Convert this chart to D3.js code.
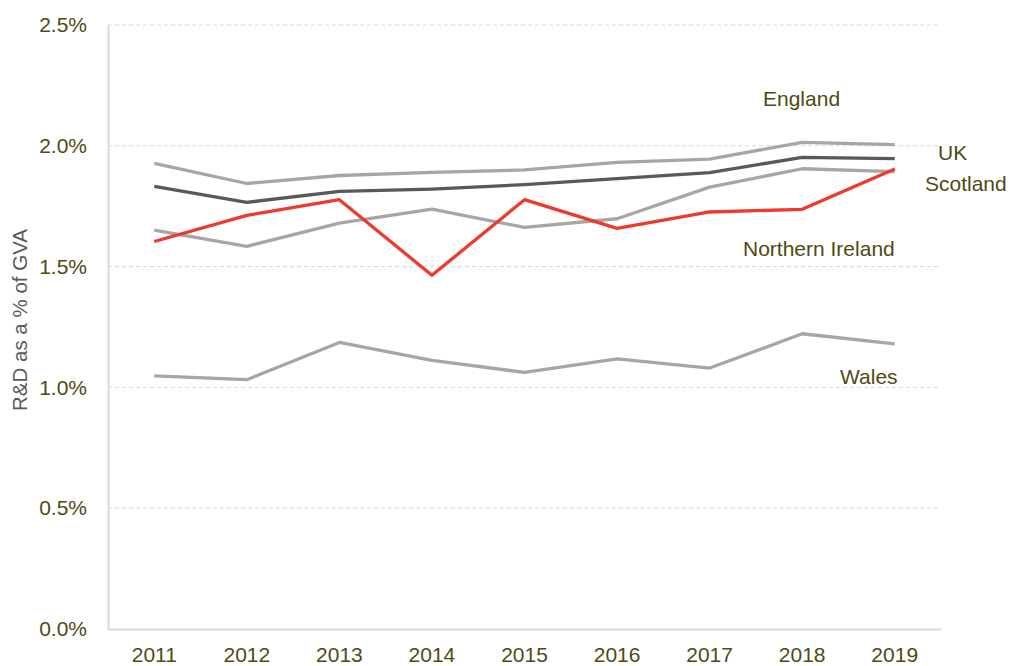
<!DOCTYPE html>
<html>
<head>
<meta charset="utf-8">
<script src="https://cdn.jsdelivr.net/npm/d3@7"></script>
<style>
  body { margin: 0; background: #ffffff; }
  svg { display: block; font-family: "Liberation Sans", Arial, sans-serif; }
</style>
</head>
<body>
<svg id="chart" width="1014" height="666"></svg>
<script>
// data (R&D as % of GVA)
const years = ["2011", "2012", "2013", "2014", "2015", "2016", "2017", "2018", "2019"];
const england = [1.927, 1.844, 1.877, 1.890, 1.900, 1.931, 1.945, 2.014, 2.005];
const uk = [1.832, 1.766, 1.811, 1.821, 1.839, 1.864, 1.889, 1.952, 1.947];
const scotland = [1.651, 1.584, 1.680, 1.738, 1.662, 1.698, 1.829, 1.905, 1.893];
const northernIreland = [1.604, 1.712, 1.777, 1.464, 1.777, 1.658, 1.726, 1.737, 1.904];
const wales = [1.048, 1.032, 1.186, 1.112, 1.062, 1.118, 1.080, 1.222, 1.180];
const yTicks = [0, 0.5, 1.0, 1.5, 2.0, 2.5];

const series = [
    { name: "England", values: england, color: "#a6a6a6" },
    { name: "Scotland", values: scotland, color: "#a6a6a6" },
    { name: "Wales", values: wales, color: "#a6a6a6" },
    { name: "UK", values: uk, color: "#595959" },
    { name: "Northern Ireland", values: northernIreland, color: "#ee3a2b" }
];

// where each series label sits (pixels)
const labelPos = {
    "England": [763, 106],
    "UK": [938, 160],
    "Scotland": [925, 191],
    "Northern Ireland": [743, 256],
    "Wales": [840, 384]
};

const textColor = "#4f4a12";
const margin = { top: 25, right: 73, bottom: 37, left: 108 };
const width = 1014, height = 666;

const svg = d3.select("#chart");

const x = d3.scaleBand()
    .domain(years)
    .range([margin.left, width - margin.right])
    .padding(0);

const y = d3.scaleLinear()
    .domain([0, 2.5])
    .range([height - margin.bottom, margin.top]);

// dashed gridlines
svg.append("g")
    .selectAll("line")
    .data(yTicks.filter(d => d > 0))
    .join("line")
    .attr("x1", margin.left)
    .attr("x2", width - margin.right)
    .attr("y1", d => y(d))
    .attr("y2", d => y(d))
    .attr("stroke", "#d9d9d9")
    .attr("stroke-width", 1)
    .attr("stroke-dasharray", "4,3");

// y axis
const yAxis = svg.append("g")
    .attr("transform", `translate(${margin.left},0)`)
    .call(d3.axisLeft(y).tickValues(yTicks).tickFormat(d => d.toFixed(1) + "%").tickSize(0).tickPadding(21));
yAxis.select(".domain").attr("stroke", "#d9d9d9").attr("stroke-width", 2);
yAxis.selectAll("text")
    .style("font-size", "21px")
    .style("font-family", "Liberation Sans, Arial, sans-serif")
    .attr("fill", textColor);

// x axis
const xAxis = svg.append("g")
    .attr("transform", `translate(0,${height - margin.bottom})`)
    .call(d3.axisBottom(x).tickSize(0).tickPadding(18));
xAxis.select(".domain").attr("stroke", "#d9d9d9").attr("stroke-width", 2);
xAxis.selectAll("text")
    .style("font-size", "21px")
    .style("font-family", "Liberation Sans, Arial, sans-serif")
    .attr("fill", textColor);

// axis title
svg.append("text")
    .attr("transform", "translate(27,320) rotate(-90)")
    .attr("text-anchor", "middle")
    .style("font-size", "20.5px")
    .attr("fill", "#595959")
    .text("R&D as a % of GVA");

// lines
const line = d3.line()
    .x((d, i) => x(years[i]) + x.bandwidth() / 2)
    .y(d => y(d));

svg.append("g")
    .selectAll("path")
    .data(series)
    .join("path")
    .attr("d", d => line(d.values))
    .attr("fill", "none")
    .attr("stroke", d => d.color)
    .attr("stroke-width", 3.3)
    .attr("stroke-linejoin", "round");

// series labels
svg.append("g")
    .selectAll("text")
    .data(series)
    .join("text")
    .attr("x", d => labelPos[d.name][0])
    .attr("y", d => labelPos[d.name][1])
    .style("font-size", "21px")
    .attr("fill", textColor)
    .text(d => d.name);
</script>
</body>
</html>
